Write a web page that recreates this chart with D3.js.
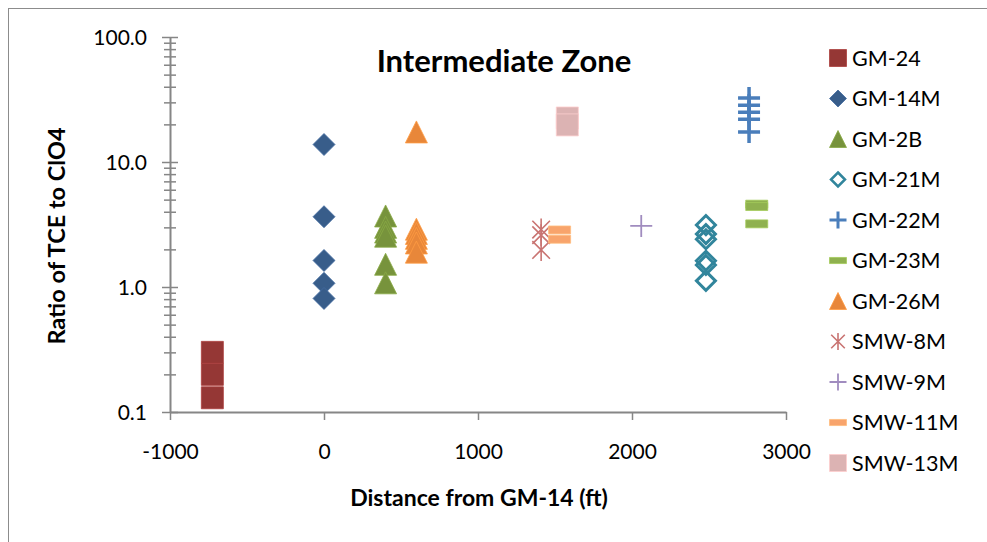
<!DOCTYPE html>
<html>
<head>
<meta charset="utf-8">
<script src="https://cdn.jsdelivr.net/npm/d3@7/dist/d3.min.js"></script>
<style>
  html, body { margin: 0; padding: 0; background: #fff; }
  svg { display: block; }
  text { font-family: Lato, "Open Sans", sans-serif; fill: #000; }
</style>
</head>
<body>
<svg id="chart" width="987" height="542"></svg>
<script>
// Well names, distance from GM-14 (ft) for each well, and TCE/ClO4 ratios
const wellNames = ["GM-24", "GM-14M", "GM-2B", "GM-21M", "GM-22M", "GM-23M",
                   "GM-26M", "SMW-8M", "SMW-9M", "SMW-11M", "SMW-13M"];
const wellDistance = [-725, 0, 400, 2480, 2760, 2810, 600, 1410, 2060, 1530, 1580];

const ratioGM24   = [0.30, 0.20, 0.13];
const ratioGM14M  = [13.8, 3.65, 1.63, 1.07, 0.81];
const ratioGM2B   = [3.7, 3.0, 2.75, 2.55, 1.52, 1.08];
const ratioGM21M  = [3.13, 2.65, 2.41, 1.62, 1.5, 1.12];
const ratioGM22M  = [32.5, 28.5, 25.0, 22.0, 17.4];
const ratioGM23M  = [4.6, 4.4, 3.2];
const ratioGM26M  = [17.4, 2.9, 2.68, 2.45, 2.25, 1.9];
const ratioSMW8M  = [2.88, 2.6, 1.98];
const ratioSMW9M  = [3.08];
const ratioSMW11M = [2.86, 2.41];
const ratioSMW13M = [22.5, 19.8];

const ratios = [ratioGM24, ratioGM14M, ratioGM2B, ratioGM21M, ratioGM22M, ratioGM23M,
                ratioGM26M, ratioSMW8M, ratioSMW9M, ratioSMW11M, ratioSMW13M];

const xTicks = [-1000, 0, 1000, 2000, 3000];
const yTicks = [0.1, 1, 10, 100];

// Marker style per well
const shapes = ["square", "diamond", "triangle", "openDiamond", "plus", "dash",
                "triangle", "star", "thinPlus", "dash", "square"];
const colors = ["#953735", "#385d8a", "#77933c", "#31859c", "#4a7ebb", "#8fb14f",
                "#e8873a", "#c97472", "#a08cbf", "#f8a46c", "#dcb3b3"];

const svg = d3.select("#chart");

// outer chart frame
svg.append("rect")
  .attr("x", 8.5).attr("y", 8.5).attr("width", 1000).attr("height", 1000)
  .attr("fill", "none").attr("stroke", "#8c8c8c").attr("stroke-width", 1);

const x = d3.scaleLinear().domain([-1000, 3000]).range([170, 786]);
const y = d3.scaleLog().domain([0.1, 100]).range([412, 37]);

const axisColor = "#868686";

// y axis: major ticks crossing the line, minor ticks in between
const minorY = [];
[0.1, 1, 10].forEach(dec => { for (let k = 2; k <= 9; k++) minorY.push(dec * k); });

const yMinor = svg.append("g").attr("transform", `translate(${x(-1000)},0)`)
  .call(d3.axisLeft(y).tickValues(minorY).tickFormat("").tickSize(6));
yMinor.select(".domain").remove();
yMinor.selectAll(".tick line").attr("x1", -6).attr("x2", 6)
  .attr("stroke", axisColor).attr("stroke-width", 1.5);

const yAxis = svg.append("g").attr("transform", `translate(${x(-1000)},0)`)
  .call(d3.axisLeft(y).tickValues(yTicks).tickFormat(d3.format(".1f")).tickSize(8).tickSizeOuter(0));
yAxis.select(".domain").attr("stroke", axisColor).attr("stroke-width", 2);
yAxis.selectAll(".tick line").attr("x1", -8).attr("x2", 8)
  .attr("stroke", axisColor).attr("stroke-width", 1.5);
yAxis.selectAll(".tick text").attr("x", -23).attr("dy", "0.35em")
  .style("font-size", "21px").style("font-family", "Lato, sans-serif").attr("fill", "#000");

const xAxis = svg.append("g").attr("transform", `translate(0,${y(0.1)})`)
  .call(d3.axisBottom(x).tickValues(xTicks).tickFormat(d3.format("d")).tickSize(8).tickSizeOuter(0));
xAxis.select(".domain").attr("stroke", axisColor).attr("stroke-width", 2);
xAxis.selectAll(".tick line").attr("stroke", axisColor).attr("stroke-width", 1.5);
xAxis.selectAll(".tick text").attr("y", 40).attr("dy", "0.35em")
  .style("font-size", "21px").style("font-family", "Lato, sans-serif").attr("fill", "#000")
  .text(d => d < 0 ? "-" + Math.abs(d) : d);

// Marker geometry, centred on (0,0), s = outer size
function markerPath(shape, s) {
  const h = s / 2;
  switch (shape) {
    case "square": return `M${-h},${-h}H${h}V${h}H${-h}Z`;
    case "diamond": return `M0,${-h}L${h},0L0,${h}L${-h},0Z`;
    case "openDiamond": { const g = h - 1.5; return `M0,${-g}L${g},0L0,${g}L${-g},0Z`; }
    case "triangle": return `M0,${-h}L${h},${h}L${-h},${h}Z`;
    case "plus": case "thinPlus": return `M${-h},0H${h}M0,${-h}V${h}`;
    case "dash": { const t = s * 0.18; return `M${-h},${-t}H${h}V${t}H${-h}Z`; }
    case "star": { const d = h * 0.8; return `M${-d},${-d}L${d},${d}M${-d},${d}L${d},${-d}M0,${-h}V${h}`; }
  }
}
function styleMarker(sel, shape, color, legend) {
  if (shape === "openDiamond") {
    sel.attr("fill", "none").attr("stroke", color).attr("stroke-width", legend ? 2.5 : 3);
  } else if (shape === "plus") {
    sel.attr("fill", "none").attr("stroke", color).attr("stroke-width", legend ? 3 : 3.5);
  } else if (shape === "thinPlus") {
    sel.attr("fill", "none").attr("stroke", color).attr("stroke-width", 1.8);
  } else if (shape === "star") {
    sel.attr("fill", "none").attr("stroke", color).attr("stroke-width", 1.6);
  } else {
    sel.attr("fill", color).attr("stroke", d3.color(color).brighter(0.4)).attr("stroke-width", 0.8);
  }
}

// data points
const plot = svg.append("g");
wellNames.forEach((name, i) => {
  const pts = ratios[i].map(v => ({ d: wellDistance[i], v }));
  const g = plot.append("g").attr("class", "series");
  const m = g.selectAll("path").data(pts).join("path")
    .attr("d", markerPath(shapes[i], 22))
    .attr("transform", p => `translate(${x(p.d)},${y(p.v)})`);
  styleMarker(m, shapes[i], colors[i], false);
});

// title and axis titles
svg.append("text").attr("x", 504).attr("y", 61).attr("text-anchor", "middle")
  .attr("dy", "0.35em").style("font-size", "31px").style("font-weight", "bold")
  .text("Intermediate Zone");

svg.append("text").attr("x", 479).attr("y", 498).attr("text-anchor", "middle")
  .attr("dy", "0.35em").style("font-size", "23px").style("font-weight", "bold")
  .text("Distance from GM-14 (ft)");

svg.append("text").attr("transform", "translate(57,236) rotate(-90)")
  .attr("text-anchor", "middle").attr("dy", "0.35em")
  .style("font-size", "23.5px").style("font-weight", "bold")
  .text("Ratio of TCE to ClO4");

// legend
const legend = svg.append("g");
wellNames.forEach((name, i) => {
  const ly = 58 + i * 40.5;
  const mk = legend.append("path").attr("d", markerPath(shapes[i], 17))
    .attr("transform", `translate(838,${ly})`);
  styleMarker(mk, shapes[i], colors[i], true);
  legend.append("text").attr("x", 852).attr("y", ly).attr("dy", "0.35em")
    .style("font-size", "21.5px").text(name);
});
</script>
</body>
</html>
